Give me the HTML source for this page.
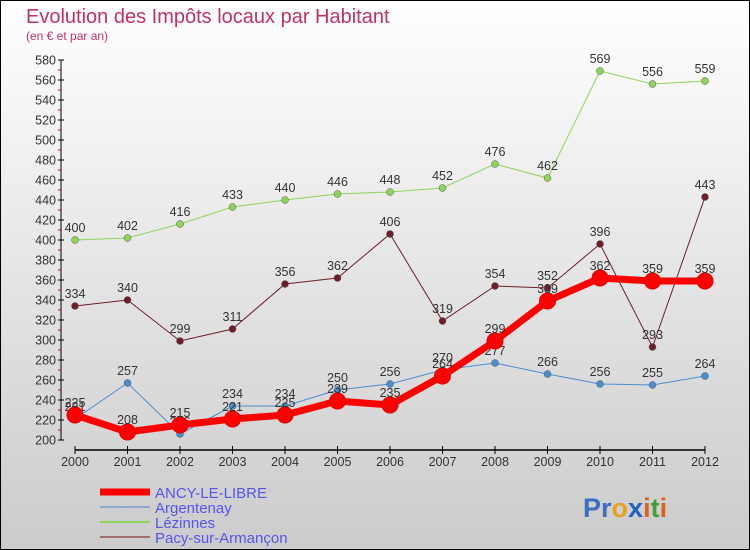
<!DOCTYPE html>
<html><head><meta charset="utf-8"><style>
body{margin:0}
svg{display:block;font-family:"Liberation Sans","DejaVu Sans",sans-serif}
</style></head><body>
<svg id="c" width="750" height="550" xmlns="http://www.w3.org/2000/svg">
<defs><linearGradient id="bg" x1="0" y1="0" x2="0" y2="1"><stop offset="0" stop-color="#ffffff"/><stop offset="1" stop-color="#cbcbcb"/></linearGradient></defs>
<rect x="0.5" y="0.5" width="749" height="549" fill="url(#bg)" stroke="#000"/>
<text x="26" y="23" font-size="20" fill="#c0306a" style="font-weight:normal">Evolution des Impôts locaux par Habitant</text>
<text x="26" y="40" font-size="12" fill="#c0306a">(en € et par an)</text>
<g id="axes"></g>
<g id="series"></g>
<g id="legend"></g>
<text x="583" y="517" font-size="27" font-weight="bold"><tspan fill="#3a6fc0">Pr</tspan><tspan fill="#e8a020">o</tspan><tspan fill="#2060c0">x</tspan><tspan fill="#e06020">i</tspan><tspan fill="#40a040">t</tspan><tspan fill="#e06020">i</tspan></text>
</svg>
<script>
const years=[2000,2001,2002,2003,2004,2005,2006,2007,2008,2009,2010,2011,2012];
const yTicks=[200,220,240,260,280,300,320,340,360,380,400,420,440,460,480,500,520,540,560,580];
const ancy=[225,208,215,221,225,239,235,264,299,339,362,359,359];
const argentenay=[221,257,206,234,234,250,256,270,277,266,256,255,264];
const lezinnes=[400,402,416,433,440,446,448,452,476,462,569,556,559];
const pacy=[334,340,299,311,356,362,406,319,354,352,396,293,443];
const NS="http://www.w3.org/2000/svg";
const xS=i=>75+i*52.5, yS=v=>60+(580-v);
function mk(p,t,a){const e=document.createElementNS(NS,t);for(const k in a)e.setAttribute(k,a[k]);p.appendChild(e);return e;}
const ax=document.getElementById('axes');
let l=mk(ax,'line',{x1:61,y1:60,x2:61,y2:440,stroke:'#000'});


l=mk(ax,'line',{x1:75,y1:450,x2:705,y2:450,stroke:'#000',"stroke-width":1.5});


yTicks.forEach(v=>{
  mk(ax,'line',{x1:58,y1:yS(v),x2:64,y2:yS(v),stroke:'#000'});
  if(v<580) mk(ax,'line',{x1:58,y1:yS(v+10),x2:61,y2:yS(v+10),stroke:'#e00000'});
  const t=mk(ax,'text',{x:56,y:yS(v)+4.5,"font-size":12.5,fill:'#333',"text-anchor":'end'});
  t.textContent=v;
  
  
});
years.forEach((y,i)=>{
  mk(ax,'line',{x1:xS(i),y1:446,x2:xS(i),y2:454,stroke:'#000'});
  const t=mk(ax,'text',{x:xS(i),y:466,"font-size":12.5,fill:'#333',"text-anchor":'middle'});
  t.textContent=y;
  
  
});
const S=document.getElementById('series');
const defs=[
 {d:pacy,c:'#6e1e28',w:1,r:3.5,n:'pacy-sur-armancon',lab:'Pacy-sur-Armançon',lc:'#a07070'},
 {d:lezinnes,c:'#8ed45a',w:1,r:3.5,n:'lezinnes',lab:'Lézinnes',lc:'#8ed45a'},
 {d:argentenay,c:'#4a8ed0',w:1,r:3.5,n:'argentenay',lab:'Argentenay',lc:'#88aacc'},
 {d:ancy,c:'#ff0000',w:7,r:8,n:'ancy-le-libre',lab:'ANCY-LE-LIBRE',lc:'#ff0000'}];
defs.forEach(s=>{
  const g=mk(S,'g',{});
  
  
  const p=mk(g,'polyline',{points:s.d.map((v,i)=>xS(i)+','+yS(v)).join(' '),fill:'none',stroke:s.c,"stroke-width":s.w});
  
  
  s.d.forEach((v,i)=>{
    const c=mk(g,'circle',{cx:xS(i),cy:yS(v),r:s.r,fill:s.c,stroke:s.w>1?'#e00000':'#555',"stroke-width":s.w>1?1:0.5});
    
    
    const t=mk(g,'text',{x:xS(i),y:yS(v)-8,"font-size":12.5,fill:'#333',"text-anchor":'middle'});
    t.textContent=v;
    
    
  });
});
const L=document.getElementById('legend');
[defs[3],defs[2],defs[1],defs[0]].forEach((s,i)=>{
  const y=492+i*15;
  mk(L,'line',{x1:100,y1:y,x2:150,y2:y,stroke:s.lc,"stroke-width":i==0?7:2});
  const t=mk(L,'text',{x:155,y:y+6,"font-size":15,fill:'#5555ee'});
  t.textContent=s.lab;
  
  
});
</script>
</body></html>
